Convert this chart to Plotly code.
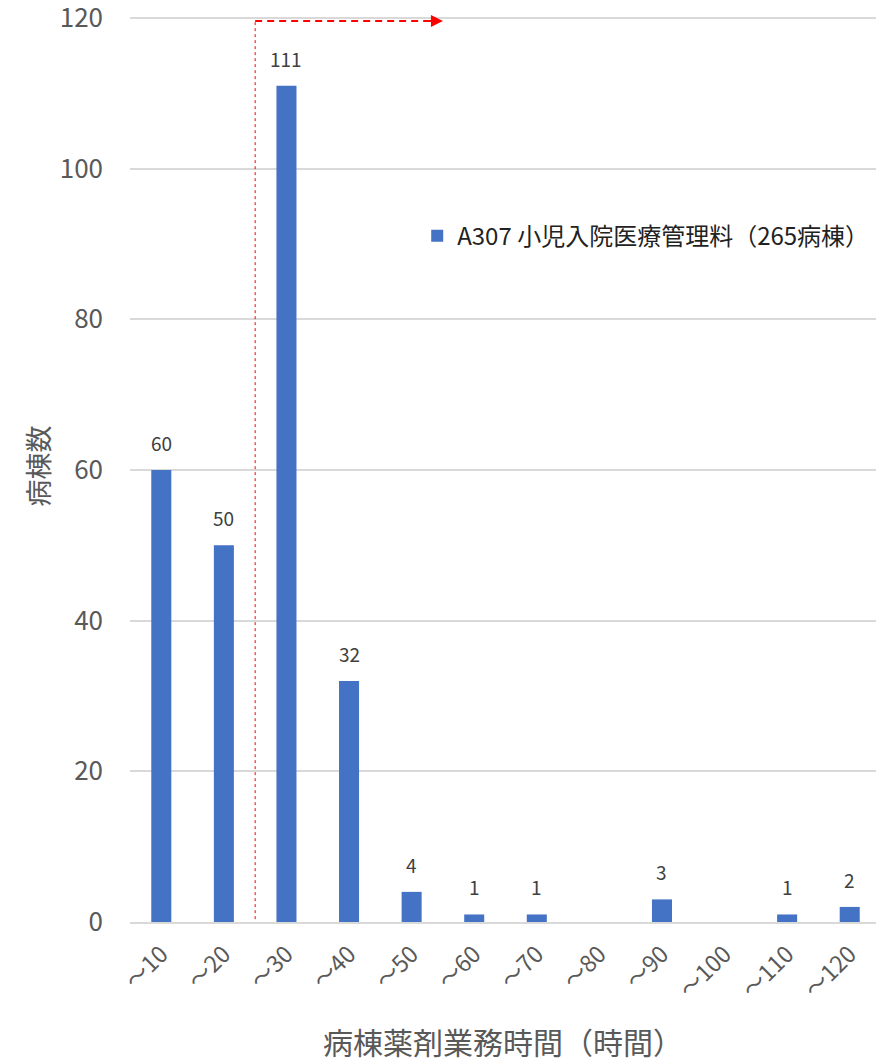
import plotly.graph_objects as go

# 病棟薬剤業務時間の区分と病棟数
categories = ["～10", "～20", "～30", "～40", "～50", "～60", "～70", "～80", "～90", "～100", "～110", "～120"]
counts = [60, 50, 111, 32, 4, 1, 1, 0, 3, 0, 1, 2]
series_name = "A307 小児入院医療管理料（265病棟）"
y_ticks = [0, 20, 40, 60, 80, 100, 120]

FONT = "Noto Sans CJK JP"
xpos = list(range(len(categories)))

fig = go.Figure()
fig.add_trace(go.Bar(
    x=xpos, y=counts, name=series_name,
    marker=dict(color="#4472C4", line=dict(width=0)),
    width=0.32,
))

# 値ラベル（0 の区分は表示しない）
for xi, v in zip(xpos, counts):
    if v > 0:
        fig.add_annotation(x=xi, y=v, xref="x", yref="y", text=str(v),
                           showarrow=False, yanchor="bottom", yshift=12,
                           font=dict(family=FONT, size=19, color="#404040"))

# 区切り線（～20 と ～30 の間）と右向き矢印
split_x = 1.5
arrow_end = 4.5
fig.add_shape(type="line", xref="x", yref="y", x0=split_x, x1=split_x,
              y0=-4.4, y1=119.6, line=dict(color="#FF0000", width=1, dash="3px,3px"))
fig.add_shape(type="line", xref="x", yref="y", x0=split_x, x1=arrow_end - 0.15,
              y0=119.6, y1=119.6, line=dict(color="#FF0000", width=2, dash="7px,5px"))
fig.add_annotation(x=arrow_end, y=119.6, xref="x", yref="y",
                   ax=arrow_end - 0.3, ay=0, axref="x", ayref="pixel",
                   showarrow=True, arrowhead=2, arrowsize=1.2, arrowwidth=2,
                   arrowcolor="#FF0000", text="")

fig.update_layout(
    width=876, height=1063,
    margin=dict(l=130, r=0, t=10, b=141, autoexpand=False),
    paper_bgcolor="white", plot_bgcolor="white",
    font=dict(family=FONT, color="#595959"),
    showlegend=True,
    legend=dict(x=0.385, y=0.752, xanchor="left", yanchor="middle",
                font=dict(family=FONT, size=24, color="#222222"),
                bgcolor="rgba(0,0,0,0)", itemwidth=30),
    xaxis=dict(
        range=[-0.5, 11.42], automargin=False,
        tickmode="array", tickvals=xpos, ticktext=categories,
        tickangle=-45, tickfont=dict(family=FONT, size=23, color="#595959"),
        showgrid=False, showline=True, linecolor="#D9D9D9", linewidth=1.5,
        ticks="", ticklabelstandoff=8,
        title=dict(text="病棟薬剤業務時間（時間）", font=dict(family=FONT, size=30, color="#595959"),
                   standoff=30),
    ),
    yaxis=dict(
        range=[0, 121.06], automargin=False,
        tickmode="array", tickvals=y_ticks,
        tickfont=dict(family=FONT, size=26, color="#595959"),
        showgrid=True, gridcolor="#D9D9D9", gridwidth=1.5,
        zeroline=False, showline=False, ticks="", ticklabelstandoff=26,
        ticklabeloverflow="allow",
        title=dict(text="病棟数", font=dict(family=FONT, size=27, color="#595959"),
                   standoff=2),
    ),
)

fig.write_html("out.html")
